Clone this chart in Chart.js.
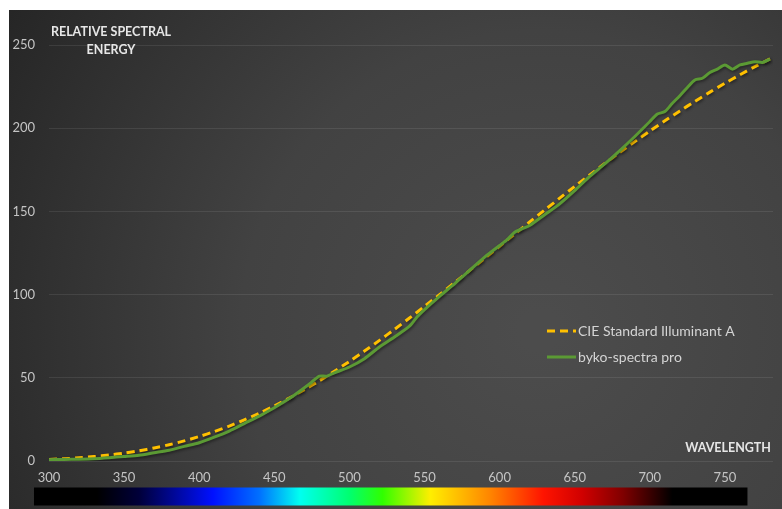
<!DOCTYPE html>
<html>
<head>
<meta charset="utf-8">
<script src="https://cdn.jsdelivr.net/npm/chart.js@4.4.0/dist/chart.umd.min.js"></script>
<style>
  html, body { margin: 0; padding: 0; background: #ffffff; }
  #wrap { width: 782px; height: 509px; position: relative; }
  canvas { display: block; }
</style>
</head>
<body>
<div id="wrap"><canvas id="chart" width="782" height="509"></canvas></div>
<script>
// Wavelength (nm) and relative spectral energy of CIE Standard Illuminant A
const wavelengthsA = [300,310,320,330,340,350,360,370,380,390,400,410,420,430,440,450,460,470,480,490,500,
  510,520,530,540,550,560,570,580,590,600,610,620,630,640,650,660,670,680,690,700,
  710,720,730,740,750,760,770,780];
const illuminantA = [0.93,1.36,1.93,2.66,3.59,4.74,6.14,7.82,9.80,12.09,14.71,17.68,21.00,24.67,28.70,33.09,37.81,42.87,48.24,53.91,59.86,
  66.06,72.50,79.13,85.95,92.91,100.00,107.18,114.44,121.73,129.04,136.35,143.62,150.84,157.98,165.03,171.96,178.77,185.43,191.93,198.26,
  204.41,210.37,216.12,221.67,227.00,232.12,237.01,241.68];

// Measured spectrum of the byko-spectra pro lamp
const wavelengthsByko = [300,310,320,330,340,350,360,370,380,390,400,410,420,430,440,450,460,470,475,480,485,490,500,
  510,520,530,540,545,550,560,570,580,590,600,605,610,615,620,630,640,650,660,670,680,690,700,705,
  710,715,720,725,730,735,740,745,750,755,760,765,770,775,780];
const bykoSpectraPro = [0.8,0.9,1.1,1.4,2.0,2.7,3.5,5.0,6.5,8.8,11.0,14.3,18.0,22.5,27.0,32.0,37.5,44.0,47.5,51.0,51.0,53.0,56.5,
  61.5,68.5,74.5,81.0,86.5,91.0,99.0,106.5,114.5,122.5,129.5,133.0,137.5,139.5,141.5,148.0,154.5,162.5,171.0,178.5,186.5,195.0,204.0,208.5,
  210.0,215.0,219.5,224.5,229.0,230.0,233.5,235.5,238.0,235.5,238.0,239.0,240.0,239.5,241.5];

const xTickValues = [300,350,400,450,500,550,600,650,700,750];
const yTickValues = [0,50,100,150,200,250];

const seriesNames = ['CIE Standard Illuminant A', 'byko-spectra pro'];
const yTitleLines = ['RELATIVE SPECTRAL', 'ENERGY'];
const xTitle = 'WAVELENGTH';

// Visible spectrum strip under the axis: [wavelength, colour]
const spectrumStops = [
  [290,'#000000'],[332,'#000000'],[360,'#00003a'],[409,'#0010ff'],[440,'#0070ff'],
  [467,'#00fff0'],[500,'#00ff70'],[522,'#30ff00'],[554,'#ffee00'],[594,'#ff8400'],
  [629,'#ff1400'],[655,'#d00000'],[682,'#800000'],[715,'#000000'],[765,'#000000']
];

const toPoints = (xs, ys) => xs.map((x, i) => ({ x, y: ys[i] }));

const UI_FONT = 'Lato, "Open Sans", "Noto Sans", sans-serif';

const panelPlugin = {
  id: 'panel',
  beforeDraw(chart) {
    const { ctx, width, height } = chart;
    ctx.save();
    ctx.fillStyle = '#ffffff';
    ctx.fillRect(0, 0, width, height);
    const g = ctx.createRadialGradient(540, 330, 20, 540, 330, 640);
    g.addColorStop(0, '#4c4c4c');
    g.addColorStop(0.45, '#424242');
    g.addColorStop(1, '#242424');
    ctx.fillStyle = g;
    ctx.fillRect(9, 10, width - 9, height - 10);
    ctx.restore();
  }
};

const shadowPlugin = {
  id: 'lineShadow',
  beforeDatasetDraw(chart) {
    const ctx = chart.ctx;
    ctx.save();
    ctx.shadowColor = 'rgba(0,0,0,0.45)';
    ctx.shadowBlur = 3;
    ctx.shadowOffsetX = 1;
    ctx.shadowOffsetY = 1.5;
  },
  afterDatasetDraw(chart) {
    chart.ctx.restore();
  }
};

const decorPlugin = {
  id: 'decor',
  afterDraw(chart) {
    const { ctx, scales } = chart;
    const xs = scales.x;
    const area = chart.chartArea;
    ctx.save();

    // spectrum strip
    const x0 = xs.getPixelForValue(spectrumStops[0][0]);
    const x1 = xs.getPixelForValue(spectrumStops[spectrumStops.length - 1][0]);
    const top = area.bottom + 26.5, h = 18;
    const grad = ctx.createLinearGradient(x0, 0, x1, 0);
    spectrumStops.forEach(([w, c]) => {
      grad.addColorStop((xs.getPixelForValue(w) - x0) / (x1 - x0), c);
    });
    ctx.fillStyle = grad;
    ctx.fillRect(x0, top, x1 - x0, h);

    // axis titles
    ctx.fillStyle = '#e6e6e6';
    ctx.font = 'bold 12.5px ' + UI_FONT;
    ctx.textBaseline = 'middle';
    ctx.textAlign = 'center';
    ctx.fillText(yTitleLines[0], 111, 32);
    ctx.fillText(yTitleLines[1], 111, 50);
    ctx.textAlign = 'right';
    ctx.fillText(xTitle, 771, 448);

    // legend
    ctx.font = '14px ' + UI_FONT;
    ctx.textAlign = 'left';
    const rows = [331, 357];
    chart.data.datasets.forEach((ds, i) => {
      const y = rows[i];
      ctx.save();
      ctx.strokeStyle = ds.borderColor;
      ctx.lineWidth = ds.borderWidth;
      ctx.setLineDash(ds.borderDash || []);
      ctx.beginPath();
      ctx.moveTo(547, y);
      ctx.lineTo(576, y);
      ctx.stroke();
      ctx.restore();
      ctx.fillStyle = '#d4d4d4';
      ctx.fillText(ds.label, 578, y);
    });
    ctx.restore();
  }
};

new Chart(document.getElementById('chart'), {
  type: 'line',
  data: {
    datasets: [
      {
        label: seriesNames[0],
        data: toPoints(wavelengthsA, illuminantA),
        borderColor: '#ffc000',
        borderWidth: 3,
        borderDash: [8, 5],
        pointRadius: 0,
        tension: 0.3,
        fill: false,
        order: 2
      },
      {
        label: seriesNames[1],
        data: toPoints(wavelengthsByko, bykoSpectraPro),
        borderColor: '#5b9a34',
        borderWidth: 3,
        pointRadius: 0,
        tension: 0.25,
        fill: false,
        order: 1
      }
    ]
  },
  options: {
    responsive: false,
    devicePixelRatio: 1,
    animation: false,
    events: [],
    layout: { padding: { left: 9, right: 9, top: 45, bottom: 22 } },
    plugins: { legend: { display: false }, tooltip: { enabled: false }, title: { display: false } },
    scales: {
      x: {
        type: 'linear',
        min: 300,
        max: 782,
        grid: { display: false, drawTicks: false },
        border: { display: false },
        afterBuildTicks: s => { s.ticks = xTickValues.map(v => ({ value: v })); },
        afterFit: s => { s.height = 26; },
        ticks: { color: '#c4c4c4', font: { family: UI_FONT, size: 13 }, padding: 9, maxRotation: 0, autoSkip: false }
      },
      y: {
        min: 0,
        max: 250,
        grid: { color: 'rgba(255,255,255,0.085)', lineWidth: 1, drawTicks: false },
        border: { display: false },
        afterBuildTicks: s => { s.ticks = yTickValues.map(v => ({ value: v })); },
        afterFit: s => { s.width = 40; },
        ticks: { color: '#c4c4c4', font: { family: UI_FONT, size: 13 }, padding: 14 }
      }
    }
  },
  plugins: [panelPlugin, shadowPlugin, decorPlugin]
});
</script>
</body>
</html>
